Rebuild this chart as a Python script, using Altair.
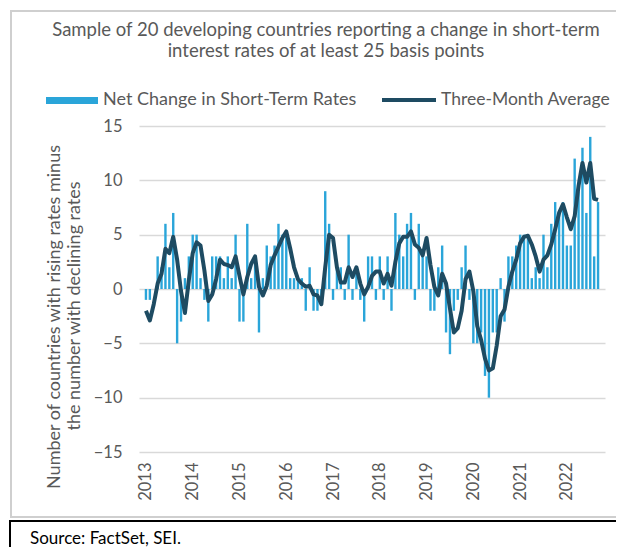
import altair as alt
import pandas as pd

# Monthly data, Jan 2013 .. Sep 2022 (index 0 = Jan 2013)
net_change = [
    -1, -1, 0, 3, 2, 6, 2, 7, -5, -3, 1, 3,
    5, 5, 1, -1, -3, 3, 3, 3, 1, 3, 1, 5,
    -3, -3, 6, 1, 3, -4, 1, 4, 3, 4, 6, 5,
    5, 1, 1, 1, 1, -2, 2, -2, -2, -1, 9, 6,
    -1, 2, 2, -1, 5, -1, 2, -1, -3, 3, 3, -1,
    3, -1, 3, -2, 7, 5, 3, 6, 7, -1, 6, 3,
    3, -2, -2, 2, 4, -4, -6, -2, -1, 2, 4, -1,
    -5, -5, -4, -8, -10, -4, -4, 1, -3, 3, 3, 4,
    5, 5, 5, 1, 2, 1, 5, 2, 6, 8, 7, 8,
    4, 4, 12, 9, 13, 7, 14, 3, 8,
]
three_month_avg = [
    -2.0, -2.9, -1.4, 0.5, 1.4, 3.7, 3.3, 4.8, 2.7, -0.2, -2.2, 0.8,
    3.3, 4.3, 4.0, 1.7, -1.1, -0.5, 0.9, 2.7, 2.3, 2.2, 2.0, 3.0,
    1.2, -0.5, 1.1, 2.3, 3.0, 0.2, -0.6, 0.3, 2.2, 3.1, 3.9, 4.7,
    5.3, 3.75, 2.0, 0.9, 0.5, 0.2, 0.3, -0.5, -0.6, -1.4, 2.0, 5.0,
    4.7, 2.0, 0.6, 0.6, 2.0, 1.1, 2.0, 0.5, -0.5, 0.2, 1.2, 1.6,
    1.6, 0.5, 1.4, 0.3, 2.5, 4.2, 4.8, 4.8, 5.3, 4.1, 3.8, 3.1,
    4.7, 2.2, 0.2, -0.6, 1.4, 0.5, -1.8, -4.0, -3.6, -2.0, 0.9, 1.6,
    -0.2, -3.4, -4.7, -6.4, -7.5, -7.3, -5.2, -2.5, -1.9, 0.2, 1.6, 2.7,
    4.2, 4.8, 4.9, 4.1, 3.0, 1.6, 2.7, 3.1, 4.1, 5.5, 7.0, 7.8,
    6.6, 5.5, 6.7, 9.5, 11.6, 9.8, 11.6, 8.3, 8.2,
]
year_ticks = [0, 12, 24, 36, 48, 60, 72, 84, 96, 108]
y_ticks = [-15, -10, -5, 0, 5, 10, 15]

subtitle = ["Sample of 20 developing countries reporting a change in short-term",
            "interest rates of at least 25 basis points"]
legend_labels = ["Net Change in Short-Term Rates", "Three-Month Average"]
y_title = ["Number of countries with rising rates minus", "the number with declining rates"]
source = "Source: FactSet, SEI."

BAR = "#2aa5d9"
LINE = "#1e4b62"
GRAY = "#595959"
FONT = "Lato"

df = pd.DataFrame({"t": list(range(len(net_change))), "net": net_change, "avg": three_month_avg})

W, H = 466, 326

x_enc = alt.X(
    "t:Q",
    scale=alt.Scale(domain=[-0.5, len(net_change) - 0.5], nice=False, zero=False),
    axis=alt.Axis(values=year_ticks, labelExpr="toString(2013 + datum.value / 12)",
                  labelAngle=270, labelFontSize=16.5, labelColor=GRAY, labelFont=FONT,
                  labelPadding=10, grid=False, ticks=False, domain=False, title=None),
)
y_scale = alt.Scale(domain=[-15, 15], nice=False)

base = alt.Chart(df)
bars = base.mark_bar(size=2.4, color=BAR).encode(
    x=x_enc,
    y=alt.Y("net:Q", scale=y_scale,
            axis=alt.Axis(values=y_ticks, grid=True, gridColor="#d9d9d9", gridWidth=1.5,
                          domain=False, ticks=False, labelPadding=17, labelFontSize=16.5,
                          labelColor=GRAY, labelFont=FONT, title=None)),
)
line = base.mark_line(color=LINE, strokeWidth=4, strokeJoin="round").encode(
    x="t:Q", y=alt.Y("avg:Q", scale=y_scale)
)

one = pd.DataFrame({"a": [0]})
deco = alt.Chart(one)

frame = deco.mark_rect(fill="transparent", stroke="#cfcfcf", strokeWidth=2).encode(
    x=alt.value(-128), x2=alt.value(W + 30), y=alt.value(-115), y2=alt.value(391))
src_box = deco.mark_rect(fill="transparent", stroke="#000000", strokeWidth=2).encode(
    x=alt.value(-129), x2=alt.value(W + 30), y=alt.value(395), y2=alt.value(H + 140))

sub1 = deco.mark_text(text=subtitle[0], font=FONT, fontSize=18.5, color=GRAY,
                      align="center", baseline="middle").encode(x=alt.value(187), y=alt.value(-96))
sub2 = deco.mark_text(text=subtitle[1], font=FONT, fontSize=18.5, color=GRAY,
                      align="center", baseline="middle").encode(x=alt.value(187), y=alt.value(-75))

leg_rect = deco.mark_rect(color=BAR).encode(
    x=alt.value(-93), x2=alt.value(-41), y=alt.value(-29), y2=alt.value(-22))
leg_t1 = deco.mark_text(text=legend_labels[0], font=FONT, fontSize=18, color=GRAY,
                        align="left", baseline="middle").encode(x=alt.value(-36), y=alt.value(-26))
leg_line = deco.mark_rule(color=LINE, strokeWidth=4).encode(
    x=alt.value(243), x2=alt.value(297), y=alt.value(-26))
leg_t2 = deco.mark_text(text=legend_labels[1], font=FONT, fontSize=17.5, color=GRAY,
                        align="left", baseline="middle").encode(x=alt.value(302), y=alt.value(-26))

yt1 = deco.mark_text(text=y_title[0], font=FONT, fontSize=18, color=GRAY, angle=270,
                     align="center", baseline="middle").encode(x=alt.value(-84), y=alt.value(191))
yt2 = deco.mark_text(text=y_title[1], font=FONT, fontSize=18, color=GRAY, angle=270,
                     align="center", baseline="middle").encode(x=alt.value(-64), y=alt.value(180))

src = deco.mark_text(text=source, font=FONT, fontSize=17, color="#000000",
                     align="left", baseline="middle").encode(x=alt.value(-109), y=alt.value(413))

chart = alt.layer(
    frame, src_box, bars, line, sub1, sub2, leg_rect, leg_t1, leg_line, leg_t2, yt1, yt2, src
).properties(
    width=W, height=H,
    autosize=alt.AutoSizeParams(type="none"),
    padding={"left": 131, "top": 118, "right": 11, "bottom": 95},
    background="white",
).configure_view(stroke=None)

chart.save("out.html", embed_options={"renderer": "svg", "actions": False})
